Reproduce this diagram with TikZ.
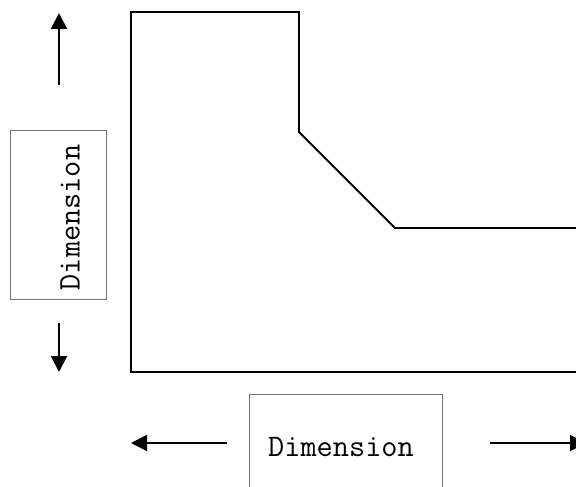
\documentclass[tikz,border=0pt]{standalone}
\usetikzlibrary{arrows.meta}
\tikzstyle{outline}=[line width=1.9pt, line join=miter, black]
\tikzstyle{arrow}=[-{Triangle[length=16pt,width=16pt]}, line width=2pt, black]
\tikzstyle{label}=[rectangle, draw=black!55, line width=1pt, inner sep=0pt]
\tikzstyle{dimtext}=[inner sep=0pt, anchor=base, font=\ttfamily\fontsize{31.4}{35}\selectfont]
\begin{document}
\begin{tikzpicture}[x=1pt,y=-1pt]
        \useasboundingbox (0,0) rectangle (576,487);
        \draw[outline] (131,12) -- (299,12) -- (299,132) -- (395,228) -- (590,228) -- (590,372) -- (131,372) -- cycle;
        \node[label, rotate=90, minimum width=169pt, minimum height=96pt] at (58.5,215) (dimleft) {};
        \node[label, minimum width=193pt, minimum height=107pt] at (346,448) (dimbottom) {};
        \node[dimtext, rotate=90] at (79.5,217.5) (dimlefttext) {Dimension};
        \node[dimtext] at (341,456) (dimbottomtext) {Dimension};
        \coordinate (upstart) at (59,85);
        \coordinate (upend) at (59,13);
        \coordinate (downstart) at (59,323);
        \coordinate (downend) at (59,372);
        \coordinate (leftstart) at (227,443);
        \coordinate (leftend) at (131,443);
        \coordinate (rightstart) at (490,443);
        \coordinate (rightend) at (586,443);
        \draw[arrow] (upstart) -- (upend);
        \draw[arrow] (downstart) -- (downend);
        \draw[arrow] (leftstart) -- (leftend);
        \draw[arrow] (rightstart) -- (rightend);
      \end{tikzpicture}
\end{document}
